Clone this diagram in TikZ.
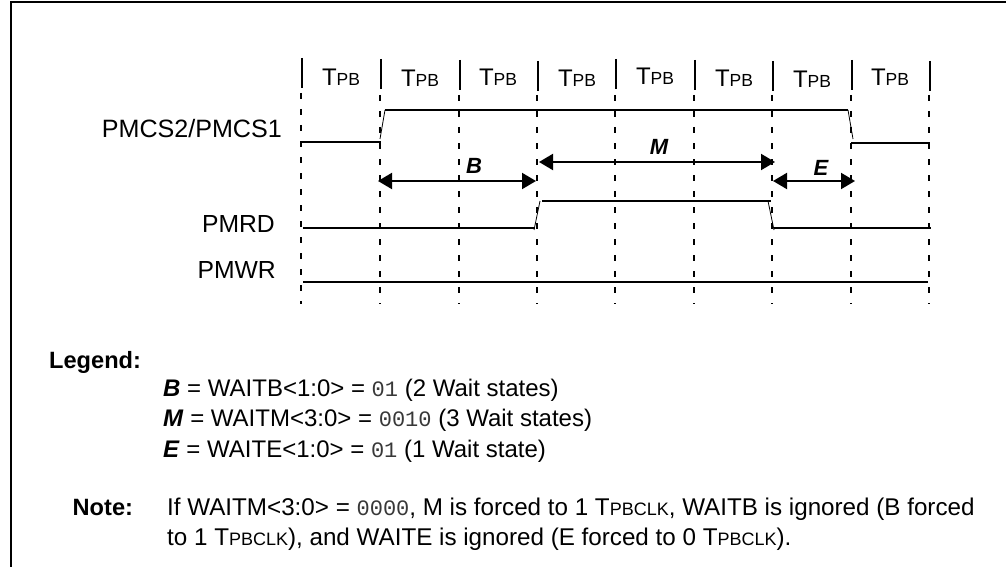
\documentclass[tikz,border=0pt]{standalone}
\usepackage{fontspec}
\setmainfont{Liberation Sans}
\setmonofont{Liberation Mono}
\usetikzlibrary{arrows.meta}
\tikzset{x=1pt,y=-1pt,
 frameline/.style={line width=2.6pt,black},
 tick/.style={line width=2pt},
 guide/.style={line width=2pt,dash pattern=on 6pt off 10pt},
 sig/.style={line width=2pt},
 edge/.style={line width=0.8pt},
 dim/.style={line width=2pt,{Triangle[length=14pt,width=16pt]}-{Triangle[length=14pt,width=16pt]}},
 txt/.style={font=\fontsize{24}{26}\selectfont,inner sep=0pt,text=black},
 notetxt/.style={txt,font=\fontsize{24.2}{26}\selectfont},
 siglabel/.style={txt,font=\fontsize{24.7}{27}\selectfont,anchor=base east},
 tp/.style={txt},
 bi/.style={txt,font=\fontsize{22}{24}\selectfont\bfseries\itshape},
 bd/.style={txt,font=\fontsize{23.6}{26}\selectfont\bfseries},
}
\newcommand{\Tpb}{T{\fontsize{17.5}{20}\selectfont PB}}
\newcommand{\Tclk}{T{\fontsize{18}{20}\selectfont PBCLK}}
\newcommand{\mono}[1]{{\fontsize{22}{24}\selectfont\color{black!78}\texttt{#1}}}
\begin{document}
\begin{tikzpicture}
\useasboundingbox (0,0) rectangle (1006,567);
\coordinate (fa) at (11,567);
\coordinate (fb) at (11,2);
\coordinate (fc) at (1006,2);
\draw[frameline] (fa) -- (fb) -- (fc);
% grid
\foreach \n/\x/\ya/\yb/\yc in {0/301.5/58/88/93,1/380.7/59/89/95,2/459.5/60/90/95,3/537.7/61/91/95,4/616/59/89/95,5/695/60/90/95,6/773/61/91/95,7/851.5/60/90/95,8/930/61/91/95}{
  \coordinate (t\n) at (\x,\ya);
  \coordinate (u\n) at (\x,\yb);
  \draw[tick] (t\n) -- (u\n);
  \coordinate (g\n) at (\x-0.7,\yc);
  \coordinate (h\n) at (\x-0.7,304);
  \draw[guide] (g\n) -- (h\n);
}
\foreach \x/\y in {341/77,420/78,498/77,577/78,655/76,734/78,812/79,890/77}{
  \node[tp] at (\x,\y) {\Tpb};
}
% signals
\coordinate (c1) at (301,141.5);\coordinate (c2) at (381,141.5);
\coordinate (c3) at (380,139);\coordinate (c4) at (385,110);
\coordinate (c5) at (848,110);\coordinate (c6) at (853,139);
\coordinate (c7) at (851,142.5);\coordinate (c8) at (930,142.5);
\draw[sig] (c1) -- (c2);
\draw[edge] (c3) -- (c4);
\draw[sig] (c4) -- (c5);
\draw[edge] (c5) -- (c6);
\draw[sig] (c7) -- (c8);
\coordinate (r1) at (303,228);\coordinate (r2) at (535,228);
\coordinate (r3) at (534,230);\coordinate (r4) at (540,201);
\coordinate (r5) at (542,201);\coordinate (r6) at (771,201);
\coordinate (r7) at (768,201);\coordinate (r8) at (774,230);
\coordinate (r9) at (774,228);\coordinate (r10) at (931,228);
\draw[sig] (r1) -- (r2);
\draw[edge] (r3) -- (r4);
\draw[sig] (r5) -- (r6);
\draw[edge] (r7) -- (r8);
\draw[sig] (r9) -- (r10);
\coordinate (w1) at (303,281.7);\coordinate (w2) at (928,281.7);
\draw[sig] (w1) -- (w2);
% labels
\node[siglabel,font=\fontsize{25.1}{27}\selectfont] (lc) at (282,138) {PMCS2/PMCS1};
\node[siglabel] (lr) at (275,232.7) {PMRD};
\node[siglabel] (lw) at (276,278) {PMWR};
% dims
\coordinate (b1) at (378,181);\coordinate (b2) at (536,181);
\coordinate (m1) at (539,162);\coordinate (m2) at (775,162);
\coordinate (e1) at (773,181);\coordinate (e2) at (855,181);
\draw[dim] (b1) -- (b2);
\draw[dim] (m1) -- (m2);
\draw[dim] (e1) -- (e2);
\node[bi] (nb) at (474,165.5) {B};
\node[bi] (nm) at (659,147) {M};
\node[bi] (ne) at (821,168) {E};
% legend
\node[bd,anchor=base west] (leg) at (49,368) {Legend:};
\node[txt,anchor=base west] (l1) at (163,396) {\textbf{\textit{B}} = WAITB<1:0> = \mono{01} (2 Wait states)};
\node[txt,anchor=base west] (l2) at (163,426.5) {\textbf{\textit{M}} = WAITM<3:0> = \mono{0010} (3 Wait states)};
\node[txt,anchor=base west] (l3) at (163,457) {\textbf{\textit{E}} = WAITE<1:0> = \mono{01} (1 Wait state)};
\node[bd,anchor=base west] (nt) at (72.5,515) {Note:};
\node[notetxt,anchor=base west] (n1) at (167,515) {If WAITM<3:0> = \mono{0000}, M is forced to 1 \Tclk, WAITB is ignored (B forced};
\node[notetxt,anchor=base west] (n2) at (167,545) {to 1 \Tclk), and WAITE is ignored (E forced to 0 \Tclk).};
\end{tikzpicture}
\end{document}
